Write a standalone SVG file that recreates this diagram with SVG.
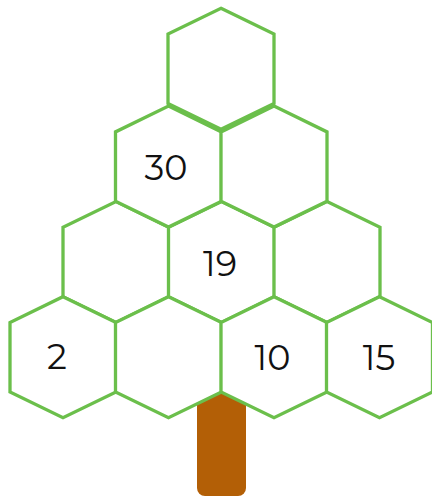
<svg xmlns="http://www.w3.org/2000/svg" xmlns:xlink="http://www.w3.org/1999/xlink" width="432" height="497" viewBox="0 0 432 497">
<style>
.hex{fill:#ffffff;stroke:#6BBF4B;stroke-width:3.3;stroke-linejoin:miter}
.lbl{font-family:"Montserrat","Lato","Liberation Sans",sans-serif;font-size:35px;fill:#111111;text-anchor:middle}
</style>
<defs>
<polygon id="hex" points="0,-60.5 53,-34.7 53,34.7 0,60.5 -53,34.7 -53,-34.7"/>
</defs>
<rect id="trunk" x="197" y="380" width="49" height="116" rx="8" fill="#B35F06"/>
<g id="connectors"></g>
<g id="r3c1"><use xlink:href="#hex" class="hex" x="116" y="262"/></g>
<g id="r3c2"><use xlink:href="#hex" class="hex" x="221.5" y="262"/><text class="lbl" x="220" y="276">19</text></g>
<g id="r3c3"><use xlink:href="#hex" class="hex" x="327" y="262"/></g>
<g id="r2c1"><use xlink:href="#hex" class="hex" x="168.5" y="166.6"/><text class="lbl" x="166" y="180">30</text></g>
<g id="r2c2"><use xlink:href="#hex" class="hex" x="274" y="166.6"/></g>
<g id="r4c1"><use xlink:href="#hex" class="hex" x="63" y="357.2"/><text class="lbl" x="57" y="369">2</text></g>
<g id="r4c2"><use xlink:href="#hex" class="hex" x="168.5" y="357.2"/></g>
<g id="r4c3"><use xlink:href="#hex" class="hex" x="274" y="357.2"/><text class="lbl" x="272.5" y="370">10</text></g>
<g id="r4c4"><use xlink:href="#hex" class="hex" x="379.5" y="357.2"/><text class="lbl" x="379" y="370">15</text></g>
<g id="r1c1"><use xlink:href="#hex" class="hex" x="221" y="68.8"/></g>
</svg>
